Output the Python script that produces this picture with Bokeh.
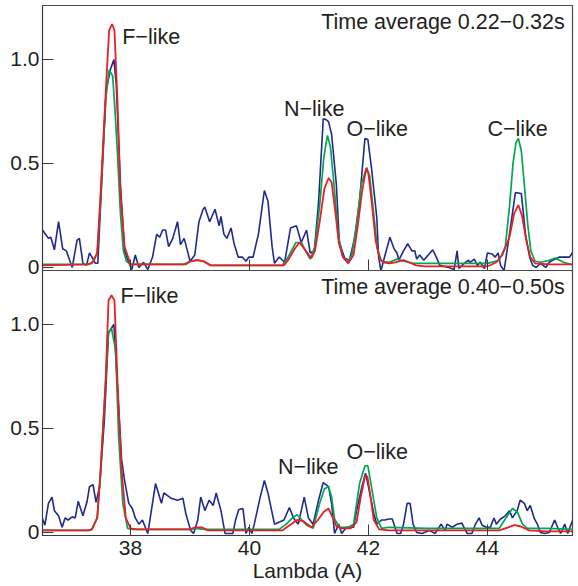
import math
from bokeh.plotting import figure
from bokeh.layouts import column
from bokeh.models import Range1d, FixedTicker, CustomJSTickFormatter, Label
from bokeh.embed import file_html
from bokeh.resources import INLINE

# ---------------- data ----------------
top_blue_x = [36.52,36.57,36.62,36.66,36.72,36.79,36.86,36.92,37.02,37.10,37.14,37.20,37.26,37.31,37.37,37.41,
              37.45,37.49,37.59,37.66,37.72,37.76,37.83,37.90,37.95,38.02,38.08,38.14,38.22,38.29,38.37,38.44,
              38.49,38.54,38.59,38.64,38.71,38.79,38.84,38.90,38.93,39.00,39.08,39.15,39.22,39.25,39.33,39.42,
              39.49,39.52,39.57,39.62,39.69,39.74,39.81,39.88,39.94,39.99,40.06,40.15,40.25,40.31,40.38,40.42,
              40.50,40.59,40.69,40.79,40.87,40.96,41.02,41.09,41.16,41.24,41.29,41.33,41.38,41.46,41.51,41.60,
              41.68,41.75,41.78,41.85,41.94,41.99,42.05,42.14,42.17,42.21,42.27,42.36,42.43,42.48,42.51,42.59,
              42.66,42.73,42.78,42.81,42.86,42.93,43.02,43.08,43.14,43.20,43.35,43.44,43.49,43.52,43.61,43.68,
              43.71,43.78,43.83,43.88,43.95,44.00,44.08,44.13,44.18,44.22,44.28,44.37,44.47,44.57,44.64,44.71,
              44.76,44.82,44.89,44.98,45.04,45.13,45.21,45.38,45.45]
top_blue_y = [0.18,0.16,0.14,0.145,0.085,0.22,0.09,0.08,0.0,0.13,0.14,0.02,0.01,0.07,0.04,0.02,
              0.02,0.26,0.85,0.95,1.0,0.88,0.40,0.08,0.04,-0.01,0.06,0.0,0.025,-0.01,0.05,0.16,
              0.145,0.18,0.18,0.10,0.14,0.22,0.11,0.14,0.11,0.03,0.06,0.22,0.28,0.29,0.22,0.28,
              0.20,0.245,0.16,0.14,0.19,0.115,0.05,0.05,0.03,0.05,0.05,0.16,0.37,0.32,0.10,0.02,
              0.05,0.025,0.19,0.20,0.12,0.18,0.07,0.08,0.31,0.715,0.71,0.70,0.64,0.40,0.12,0.045,
              0.035,0.12,0.17,0.32,0.62,0.615,0.48,0.24,0.05,-0.015,0.05,0.145,0.09,0.07,0.035,0.08,
              0.115,0.08,0.08,0.04,0.06,0.035,0.065,0.085,0.05,0.01,0.0,-0.01,0.08,-0.005,0.02,0.035,
              0.025,0.04,0.01,0.025,-0.005,0.07,0.065,0.05,0.07,0.01,-0.015,0.16,0.36,0.355,0.16,0.05,
              0.01,0.0,0.02,0.0,0.025,0.04,0.05,0.05,0.08]

top_green_x = [36.50,37.30,37.38,37.44,37.49,37.58,37.64,37.70,37.74,37.78,37.83,37.88,37.93,38.00,38.90,39.00,
               39.12,39.22,39.35,40.55,40.65,40.78,40.87,40.96,41.02,41.10,41.18,41.25,41.31,41.36,41.42,41.49,
               41.57,41.65,41.72,41.80,41.88,41.97,42.02,42.08,42.15,42.22,42.35,42.48,42.60,42.75,43.00,43.50,
               44.00,44.20,44.30,44.37,44.43,44.48,44.52,44.57,44.62,44.68,44.73,44.80,44.90,45.04,45.14,45.28,45.45]
top_green_y = [0.015,0.015,0.03,0.07,0.29,0.80,0.95,0.92,0.75,0.55,0.26,0.08,0.03,0.015,0.015,0.03,
               0.035,0.03,0.01,0.01,0.05,0.12,0.12,0.07,0.04,0.10,0.30,0.53,0.635,0.58,0.40,0.16,
               0.05,0.025,0.06,0.20,0.40,0.48,0.44,0.28,0.09,0.03,0.025,0.04,0.03,0.02,0.02,0.02,
               0.02,0.035,0.10,0.29,0.50,0.60,0.62,0.56,0.40,0.20,0.08,0.03,0.025,0.035,0.045,0.025,0.01]

top_red_x = [36.50,37.25,37.35,37.44,37.49,37.59,37.64,37.69,37.73,37.78,37.83,37.90,38.00,38.93,39.01,39.13,
             39.23,39.35,40.58,40.66,40.76,40.84,40.92,41.04,41.10,41.18,41.26,41.33,41.38,41.45,41.50,41.57,
             41.66,41.75,41.82,41.89,41.96,42.00,42.06,42.12,42.19,42.25,42.35,42.45,42.59,42.68,42.80,42.95,
             43.50,44.00,44.15,44.25,44.37,44.45,44.52,44.58,44.66,44.72,44.80,45.04,45.45]
top_red_y = [0.01,0.015,0.02,0.07,0.32,0.88,1.14,1.17,1.14,0.80,0.36,0.10,0.015,0.015,0.03,0.035,
             0.03,0.01,0.01,0.04,0.09,0.12,0.09,0.045,0.08,0.22,0.38,0.43,0.41,0.25,0.12,0.05,
             0.02,0.06,0.20,0.36,0.475,0.45,0.30,0.13,0.04,0.025,0.02,0.025,0.035,0.025,0.01,0.005,
             0.005,0.005,0.025,0.06,0.145,0.26,0.30,0.25,0.12,0.05,0.02,0.015,0.015]

bot_blue_x = [36.52,36.56,36.62,36.68,36.72,36.79,36.85,36.90,36.95,37.02,37.07,37.12,37.20,37.27,37.31,37.37,
              37.42,37.48,37.56,37.63,37.72,37.78,37.85,37.90,37.97,38.03,38.08,38.14,38.20,38.29,38.35,38.42,
              38.52,38.56,38.68,38.79,38.88,38.93,39.01,39.06,39.13,39.18,39.25,39.32,39.39,39.44,39.52,39.59,
              39.72,39.77,39.82,39.89,39.94,39.99,40.04,40.08,40.18,40.25,40.31,40.42,40.58,40.67,40.74,40.82,
              40.87,40.92,40.99,41.07,41.16,41.24,41.33,41.38,41.43,41.50,41.55,41.63,41.70,41.75,41.80,41.89,
              41.95,42.00,42.09,42.14,42.22,42.28,42.34,42.40,42.48,42.54,42.59,42.65,42.70,42.75,42.81,42.90,
              43.02,43.12,43.22,43.29,43.32,43.41,43.49,43.57,43.66,43.74,43.79,43.86,43.91,43.98,44.05,44.11,
              44.15,44.22,44.30,44.37,44.42,44.50,44.55,44.62,44.67,44.72,44.79,44.84,44.89,44.96,45.04,45.13,
              45.18,45.23,45.30,45.35,45.40,45.45]
bot_blue_y = [0.067,0.035,0.14,0.17,0.105,0.08,0.025,0.07,0.06,0.075,0.07,0.15,0.08,0.15,0.22,0.23,
              0.145,0.22,0.54,0.96,1.0,0.70,0.35,0.25,0.14,0.115,0.07,0.04,0.06,-0.005,0.105,0.235,
              0.14,0.19,0.165,0.155,0.165,0.09,0.01,-0.005,0.06,0.17,0.105,0.155,0.13,0.19,0.105,-0.005,
              -0.005,0.065,0.11,0.115,-0.005,0.025,-0.005,0.04,0.17,0.25,0.19,0.04,0.06,0.12,0.07,0.04,
              0.105,0.17,0.07,0.04,0.155,0.24,0.22,0.14,-0.005,0.04,-0.005,0.025,0.025,0.025,0.105,0.22,
              0.285,0.22,0.09,0.04,0.06,0.06,0.065,0.065,-0.005,-0.005,0.04,0.14,0.14,0.04,0.0,-0.005,
              0.01,-0.005,0.04,0.01,0.04,0.025,0.04,0.045,-0.005,-0.005,0.035,0.07,0.035,0.025,0.025,0.07,
              0.04,0.065,0.08,0.105,0.07,0.105,0.155,0.14,0.105,0.13,0.065,0.04,0.0,-0.005,0.0,0.06,
              0.025,-0.005,0.04,-0.005,0.035,0.07]

bot_green_x = [36.50,37.30,37.35,37.44,37.49,37.58,37.63,37.68,37.75,37.80,37.87,37.95,38.05,39.00,39.10,39.25,
               40.50,40.62,40.72,40.80,40.88,40.96,41.07,41.18,41.26,41.33,41.38,41.43,41.51,41.66,41.75,41.85,
               41.94,41.99,42.05,42.14,42.22,42.35,43.00,44.20,44.30,44.42,44.50,44.59,44.67,45.00,45.45]
bot_green_y = [0.01,0.01,0.015,0.07,0.265,0.72,0.96,0.98,0.875,0.46,0.14,0.02,0.015,0.015,0.02,0.015,
               0.015,0.04,0.07,0.085,0.06,0.035,0.02,0.14,0.21,0.22,0.17,0.065,0.025,0.025,0.04,0.235,
               0.32,0.32,0.22,0.07,0.02,0.025,0.02,0.02,0.065,0.115,0.10,0.04,0.02,0.02,0.015]

bot_red_x = [36.50,37.30,37.35,37.44,37.49,37.58,37.63,37.68,37.73,37.78,37.85,37.92,38.00,38.10,39.00,39.08,
             39.20,39.30,40.55,40.65,40.80,40.90,41.04,41.15,41.25,41.33,41.40,41.46,41.55,41.70,41.80,41.87,
             41.94,41.98,42.02,42.09,42.18,42.35,43.00,44.20,44.35,44.45,44.55,44.70,45.00,45.45]
bot_red_y = [0.01,0.01,0.015,0.07,0.265,0.72,1.115,1.14,1.115,0.73,0.30,0.07,0.02,0.015,0.015,0.025,
             0.025,0.01,0.01,0.03,0.06,0.055,0.025,0.06,0.10,0.115,0.07,0.03,0.02,0.02,0.05,0.17,
             0.27,0.27,0.20,0.06,0.015,0.01,0.01,0.01,0.025,0.035,0.03,0.01,0.005,0.005]

x_ticks = [38, 40, 42, 44]
y_ticks = [0, 0.5, 1.0]
top_title = "Time average 0.22\u22120.32s"
bot_title = "Time average 0.40\u22120.50s"
x_label = "Lambda (A)"
fig_id = "IG04 327 Fe"

# ---------------- styling ----------------
FONT = "Liberation Sans"
TXT = "#231f20"
BLUE = "#1f2a8a"
GREEN = "#00a651"
RED = "#ec1c24"
X0, X1 = 36.52, 45.43
Y0, Y1 = -0.0145, 1.259
FW, FH = 530, 265
OVER = 10


def base_fig(with_xlabels):
    p = figure(output_backend="svg", toolbar_location=None,
               x_range=Range1d(X0, X1), y_range=Range1d(Y0, Y1),
               frame_width=FW, frame_height=FH,
               min_border_left=42, min_border_right=6,
               min_border_top=5 if not with_xlabels else 0,
               min_border_bottom=OVER if not with_xlabels else 0,
               background_fill_color="white", border_fill_alpha=0)
    p.grid.visible = False
    p.outline_line_color = "#4a4a4a"
    p.outline_line_width = 1.2
    for ax in (p.xaxis[0], p.yaxis[0]):
        ax.major_tick_in = 11
        ax.major_tick_out = 0
        ax.minor_tick_line_color = None
        ax.axis_line_color = "#3a3a3a"
        ax.major_tick_line_color = "#3a3a3a"
        ax.major_label_text_font = FONT
        ax.major_label_text_font_size = "21px"
        ax.major_label_text_color = TXT
    p.xaxis.ticker = FixedTicker(ticks=x_ticks)
    p.yaxis.ticker = FixedTicker(ticks=y_ticks)
    p.yaxis.formatter = CustomJSTickFormatter(code="return tick == 0 ? '0' : tick.toFixed(1);")
    p.yaxis.major_label_standoff = 3
    if with_xlabels:
        p.xaxis.major_label_standoff = 5
        p.xaxis.axis_label = x_label
        p.xaxis.axis_label_text_font = FONT
        p.xaxis.axis_label_text_font_size = "21px"
        p.xaxis.axis_label_text_font_style = "normal"
        p.xaxis.axis_label_text_color = TXT
        p.xaxis.axis_label_standoff = 1
    else:
        p.xaxis.major_label_text_font_size = "1px"
        p.xaxis.major_label_text_color = None
        p.xaxis.major_label_standoff = 0
    return p


def add_lines(p, bx, by, gx, gy, rx, ry):
    p.line(bx, by, line_color=BLUE, line_width=1.6)
    p.line(gx, gy, line_color=GREEN, line_width=1.7)
    p.line(rx, ry, line_color=RED, line_width=1.8)


def lab(p, x, y, t, align="left"):
    p.add_layout(Label(x=x, y=y, y_offset=6, text=t, text_font=FONT, text_font_size="21.5px",
                       text_color=TXT, text_align=align, text_baseline="alphabetic"))


top = base_fig(False)
add_lines(top, top_blue_x, top_blue_y, top_green_x, top_green_y, top_red_x, top_red_y)
lab(top, 37.86, 1.077, "F\u2212like")
lab(top, 40.58, 0.731, "N\u2212like")
lab(top, 41.63, 0.635, "O\u2212like")
lab(top, 44.00, 0.635, "C\u2212like")
lab(top, 45.30, 1.149, top_title, "right")

bot = base_fig(True)
bot.margin = (-OVER, 0, 0, 0)
add_lines(bot, bot_blue_x, bot_blue_y, bot_green_x, bot_green_y, bot_red_x, bot_red_y)
lab(bot, 37.83, 1.106, "F\u2212like")
lab(bot, 40.48, 0.288, "N\u2212like")
lab(bot, 41.63, 0.36, "O\u2212like")
lab(bot, 45.30, 1.149, bot_title, "right")
bot.add_layout(Label(x=X1, y=0.0, x_offset=1, text=fig_id, text_font=FONT,
                     text_font_size="11px", text_color=TXT, angle=math.pi / 2,
                     text_align="left", text_baseline="top"))

layout = column(top, bot, spacing=0)
open("out.html", "w").write(file_html(layout, INLINE))
